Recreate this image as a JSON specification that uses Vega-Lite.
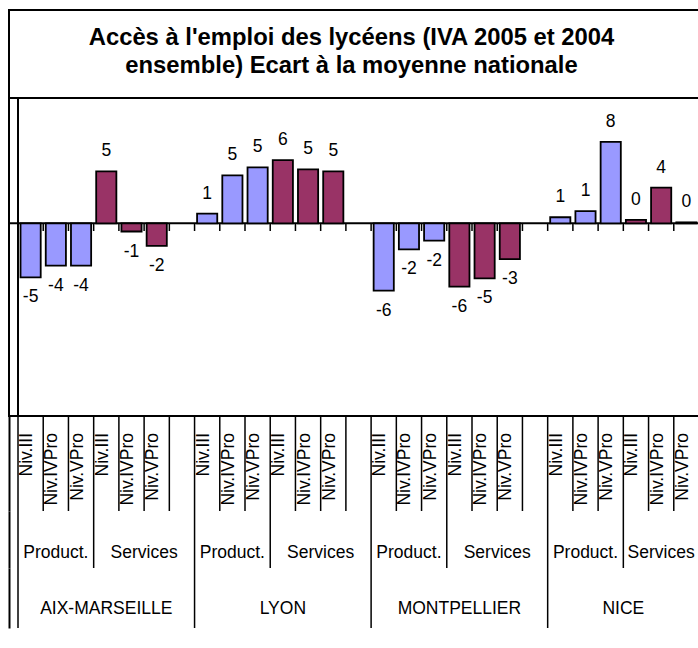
{
  "$schema": "https://vega.github.io/schema/vega-lite/v6.json",
  "padding": {"left": 7, "top": 9, "right": 0, "bottom": 0},
  "background": "white",
  "bounds": "flush",
  "spacing": 0,
  "config": {"font": "Liberation Sans", "view": {"stroke": null}},
  "datasets": {
    "slots": [
      {"id": "AIX-MARSEILLE|Product.|Niv.III", "region": "AIX-MARSEILLE", "group": "Product.", "level": "Niv.III", "value": -5.3, "label": "-5"},
      {"id": "AIX-MARSEILLE|Product.|Niv.IVPro", "region": "AIX-MARSEILLE", "group": "Product.", "level": "Niv.IVPro", "value": -4.15, "label": "-4"},
      {"id": "AIX-MARSEILLE|Product.|Niv.VPro", "region": "AIX-MARSEILLE", "group": "Product.", "level": "Niv.VPro", "value": -4.15, "label": "-4"},
      {"id": "AIX-MARSEILLE|Services|Niv.III", "region": "AIX-MARSEILLE", "group": "Services", "level": "Niv.III", "value": 5.1, "label": "5"},
      {"id": "AIX-MARSEILLE|Services|Niv.IVPro", "region": "AIX-MARSEILLE", "group": "Services", "level": "Niv.IVPro", "value": -0.8, "label": "-1"},
      {"id": "AIX-MARSEILLE|Services|Niv.VPro", "region": "AIX-MARSEILLE", "group": "Services", "level": "Niv.VPro", "value": -2.2, "label": "-2"},
      {"id": "AIX-MARSEILLE|Services|-", "region": "AIX-MARSEILLE", "group": "Services", "level": "", "value": null, "label": ""},
      {"id": "LYON|Product.|Niv.III", "region": "LYON", "group": "Product.", "level": "Niv.III", "value": 0.95, "label": "1"},
      {"id": "LYON|Product.|Niv.IVPro", "region": "LYON", "group": "Product.", "level": "Niv.IVPro", "value": 4.7, "label": "5"},
      {"id": "LYON|Product.|Niv.VPro", "region": "LYON", "group": "Product.", "level": "Niv.VPro", "value": 5.5, "label": "5"},
      {"id": "LYON|Services|Niv.III", "region": "LYON", "group": "Services", "level": "Niv.III", "value": 6.2, "label": "6"},
      {"id": "LYON|Services|Niv.IVPro", "region": "LYON", "group": "Services", "level": "Niv.IVPro", "value": 5.3, "label": "5"},
      {"id": "LYON|Services|Niv.VPro", "region": "LYON", "group": "Services", "level": "Niv.VPro", "value": 5.1, "label": "5"},
      {"id": "LYON|Services|-", "region": "LYON", "group": "Services", "level": "", "value": null, "label": ""},
      {"id": "MONTPELLIER|Product.|Niv.III", "region": "MONTPELLIER", "group": "Product.", "level": "Niv.III", "value": -6.6, "label": "-6"},
      {"id": "MONTPELLIER|Product.|Niv.IVPro", "region": "MONTPELLIER", "group": "Product.", "level": "Niv.IVPro", "value": -2.55, "label": "-2"},
      {"id": "MONTPELLIER|Product.|Niv.VPro", "region": "MONTPELLIER", "group": "Product.", "level": "Niv.VPro", "value": -1.7, "label": "-2"},
      {"id": "MONTPELLIER|Services|Niv.III", "region": "MONTPELLIER", "group": "Services", "level": "Niv.III", "value": -6.2, "label": "-6"},
      {"id": "MONTPELLIER|Services|Niv.IVPro", "region": "MONTPELLIER", "group": "Services", "level": "Niv.IVPro", "value": -5.4, "label": "-5"},
      {"id": "MONTPELLIER|Services|Niv.VPro", "region": "MONTPELLIER", "group": "Services", "level": "Niv.VPro", "value": -3.5, "label": "-3"},
      {"id": "MONTPELLIER|Services|-", "region": "MONTPELLIER", "group": "Services", "level": "", "value": null, "label": ""},
      {"id": "NICE|Product.|Niv.III", "region": "NICE", "group": "Product.", "level": "Niv.III", "value": 0.6, "label": "1"},
      {"id": "NICE|Product.|Niv.IVPro", "region": "NICE", "group": "Product.", "level": "Niv.IVPro", "value": 1.2, "label": "1"},
      {"id": "NICE|Product.|Niv.VPro", "region": "NICE", "group": "Product.", "level": "Niv.VPro", "value": 8.0, "label": "8"},
      {"id": "NICE|Services|Niv.III", "region": "NICE", "group": "Services", "level": "Niv.III", "value": 0.35, "label": "0"},
      {"id": "NICE|Services|Niv.IVPro", "region": "NICE", "group": "Services", "level": "Niv.IVPro", "value": 3.5, "label": "4"},
      {"id": "NICE|Services|Niv.VPro", "region": "NICE", "group": "Services", "level": "Niv.VPro", "value": 0.1, "label": "0"}
    ],
    "groups": [
      {"label": "Product.", "anchor": "AIX-MARSEILLE|Product.|Niv.IVPro", "span": 3},
      {"label": "Services", "anchor": "AIX-MARSEILLE|Services|Niv.IVPro", "span": 4},
      {"label": "Product.", "anchor": "LYON|Product.|Niv.IVPro", "span": 3},
      {"label": "Services", "anchor": "LYON|Services|Niv.IVPro", "span": 4},
      {"label": "Product.", "anchor": "MONTPELLIER|Product.|Niv.IVPro", "span": 3},
      {"label": "Services", "anchor": "MONTPELLIER|Services|Niv.IVPro", "span": 4},
      {"label": "Product.", "anchor": "NICE|Product.|Niv.IVPro", "span": 3},
      {"label": "Services", "anchor": "NICE|Services|Niv.IVPro", "span": 3}
    ],
    "regions": [
      {"label": "AIX-MARSEILLE", "anchor": "AIX-MARSEILLE|Services|Niv.III", "span": 7},
      {"label": "LYON", "anchor": "LYON|Services|Niv.III", "span": 7},
      {"label": "MONTPELLIER", "anchor": "MONTPELLIER|Services|Niv.III", "span": 7},
      {"label": "NICE", "anchor": "NICE|Product.|Niv.VPro", "span": 6}
    ]
  },
  "vconcat": [
    {
      "width": 691,
      "height": 88,
      "view": {"stroke": "black", "strokeWidth": 2},
      "data": {"values": [{}]},
      "mark": {"type": "text", "fontSize": 23.8, "fontWeight": "bold", "align": "center", "baseline": "middle", "lineHeight": 28, "dy": -16, "dx": -3},
      "encoding": {
        "text": {"value": ["Accès à l'emploi des lycéens (IVA 2005 et 2004", "ensemble) Ecart à la moyenne nationale"]}
      }
    },
    {
      "width": 690,
      "height": 318,
      "view": {"stroke": "black", "strokeWidth": 2},
      "layer": [
        {
          "data": {"values": [{}]},
          "mark": {"type": "rule", "color": "black", "strokeWidth": 2},
          "encoding": {"y": {"datum": 0, "type": "quantitative", "scale": {"domain": [-18.9, 12.3], "nice": false, "zero": false}, "axis": null}}
        },
        {
          "data": {"name": "slots"},
          "transform": [{"filter": "datum.id === 'AIX-MARSEILLE|Product.|Niv.III'"}],
          "mark": {"type": "rule", "color": "black", "strokeWidth": 2},
          "encoding": {
            "x": {"field": "id", "type": "nominal", "bandPosition": 0, "axis": null,
              "scale": {"type": "band", "paddingInner": 0, "paddingOuter": 0.1785, "align": 1, "domain": ["AIX-MARSEILLE|Product.|Niv.III","AIX-MARSEILLE|Product.|Niv.IVPro","AIX-MARSEILLE|Product.|Niv.VPro","AIX-MARSEILLE|Services|Niv.III","AIX-MARSEILLE|Services|Niv.IVPro","AIX-MARSEILLE|Services|Niv.VPro","AIX-MARSEILLE|Services|-","LYON|Product.|Niv.III","LYON|Product.|Niv.IVPro","LYON|Product.|Niv.VPro","LYON|Services|Niv.III","LYON|Services|Niv.IVPro","LYON|Services|Niv.VPro","LYON|Services|-","MONTPELLIER|Product.|Niv.III","MONTPELLIER|Product.|Niv.IVPro","MONTPELLIER|Product.|Niv.VPro","MONTPELLIER|Services|Niv.III","MONTPELLIER|Services|Niv.IVPro","MONTPELLIER|Services|Niv.VPro","MONTPELLIER|Services|-","NICE|Product.|Niv.III","NICE|Product.|Niv.IVPro","NICE|Product.|Niv.VPro","NICE|Services|Niv.III","NICE|Services|Niv.IVPro","NICE|Services|Niv.VPro"]}}
          }
        },
        {
          "data": {"name": "slots"},
          "mark": {"type": "rule", "color": "black", "strokeWidth": 1.5},
          "encoding": {
            "x": {"field": "id", "type": "nominal", "bandPosition": 0, "axis": null},
            "y": {"datum": 0, "type": "quantitative"},
            "y2": {"datum": -0.75}
          }
        },
        {
          "data": {"name": "slots"},
          "mark": {"type": "bar", "width": {"band": 0.8}, "stroke": "black", "strokeWidth": 1.8},
          "encoding": {
            "x": {"field": "id", "type": "nominal", "axis": null},
            "y": {"field": "value", "type": "quantitative"},
            "color": {"field": "group", "type": "nominal", "legend": null, "scale": {"domain": ["Product.", "Services"], "range": ["#9999FF", "#993366"]}}
          }
        },
        {
          "data": {"name": "slots"},
          "transform": [{"filter": "isValid(datum.value) && datum.value >= 0"}],
          "mark": {"type": "text", "fontSize": 17.5, "baseline": "alphabetic", "dy": -15},
          "encoding": {
            "x": {"field": "id", "type": "nominal", "axis": null},
            "y": {"field": "value", "type": "quantitative"},
            "text": {"field": "label"}
          }
        },
        {
          "data": {"name": "slots"},
          "transform": [{"filter": "isValid(datum.value) && datum.value < 0"}],
          "mark": {"type": "text", "fontSize": 17.5, "baseline": "alphabetic", "dy": 25},
          "encoding": {
            "x": {"field": "id", "type": "nominal", "axis": null},
            "y": {"field": "value", "type": "quantitative"},
            "text": {"field": "label"}
          }
        }
      ]
    },
    {
      "width": 690,
      "height": 95,
      "data": {"name": "slots"},
      "layer": [
        {
          "mark": {"type": "rule", "color": "black", "strokeWidth": 1.5},
          "encoding": {
            "x": {"field": "id", "type": "nominal", "bandPosition": 0, "axis": null,
              "scale": {"type": "band", "paddingInner": 0, "paddingOuter": 0.1785, "align": 1, "domain": ["AIX-MARSEILLE|Product.|Niv.III","AIX-MARSEILLE|Product.|Niv.IVPro","AIX-MARSEILLE|Product.|Niv.VPro","AIX-MARSEILLE|Services|Niv.III","AIX-MARSEILLE|Services|Niv.IVPro","AIX-MARSEILLE|Services|Niv.VPro","AIX-MARSEILLE|Services|-","LYON|Product.|Niv.III","LYON|Product.|Niv.IVPro","LYON|Product.|Niv.VPro","LYON|Services|Niv.III","LYON|Services|Niv.IVPro","LYON|Services|Niv.VPro","LYON|Services|-","MONTPELLIER|Product.|Niv.III","MONTPELLIER|Product.|Niv.IVPro","MONTPELLIER|Product.|Niv.VPro","MONTPELLIER|Services|Niv.III","MONTPELLIER|Services|Niv.IVPro","MONTPELLIER|Services|Niv.VPro","MONTPELLIER|Services|-","NICE|Product.|Niv.III","NICE|Product.|Niv.IVPro","NICE|Product.|Niv.VPro","NICE|Services|Niv.III","NICE|Services|Niv.IVPro","NICE|Services|Niv.VPro"]}}
          }
        },
        {
          "transform": [{"filter": "datum.id === 'NICE|Services|Niv.VPro'"}],
          "mark": {"type": "rule", "color": "black", "strokeWidth": 1.5},
          "encoding": {"x": {"field": "id", "type": "nominal", "bandPosition": 1, "axis": null}}
        },
        {
          "transform": [{"filter": "datum.level !== ''"}],
          "mark": {"type": "text", "fontSize": 17.5, "angle": 270, "align": "right", "baseline": "middle", "dx": 30.5, "dy": -3.5},
          "encoding": {
            "x": {"field": "id", "type": "nominal", "axis": null},
            "y": {"datum": "niv", "type": "nominal", "axis": {"domain": true, "domainColor": "black", "domainWidth": 2, "labels": false, "ticks": false, "title": null, "grid": false}},
            "text": {"field": "level"}
          }
        }
      ]
    },
    {
      "width": 690,
      "height": 57,
      "layer": [
        {
          "data": {"name": "slots"},
          "transform": [{"filter": "datum.level === 'Niv.III'"}],
          "mark": {"type": "rule", "color": "black", "strokeWidth": 1.5},
          "encoding": {
            "x": {"field": "id", "type": "nominal", "bandPosition": 0, "axis": null,
              "scale": {"type": "band", "paddingInner": 0, "paddingOuter": 0.1785, "align": 1, "domain": ["AIX-MARSEILLE|Product.|Niv.III","AIX-MARSEILLE|Product.|Niv.IVPro","AIX-MARSEILLE|Product.|Niv.VPro","AIX-MARSEILLE|Services|Niv.III","AIX-MARSEILLE|Services|Niv.IVPro","AIX-MARSEILLE|Services|Niv.VPro","AIX-MARSEILLE|Services|-","LYON|Product.|Niv.III","LYON|Product.|Niv.IVPro","LYON|Product.|Niv.VPro","LYON|Services|Niv.III","LYON|Services|Niv.IVPro","LYON|Services|Niv.VPro","LYON|Services|-","MONTPELLIER|Product.|Niv.III","MONTPELLIER|Product.|Niv.IVPro","MONTPELLIER|Product.|Niv.VPro","MONTPELLIER|Services|Niv.III","MONTPELLIER|Services|Niv.IVPro","MONTPELLIER|Services|Niv.VPro","MONTPELLIER|Services|-","NICE|Product.|Niv.III","NICE|Product.|Niv.IVPro","NICE|Product.|Niv.VPro","NICE|Services|Niv.III","NICE|Services|Niv.IVPro","NICE|Services|Niv.VPro"]}}
          }
        },
        {
          "data": {"name": "slots"},
          "transform": [{"filter": "datum.id === 'NICE|Services|Niv.VPro'"}],
          "mark": {"type": "rule", "color": "black", "strokeWidth": 1.5},
          "encoding": {"x": {"field": "id", "type": "nominal", "bandPosition": 1, "axis": null}}
        },
        {
          "data": {"name": "groups"},
          "transform": [{"filter": "datum.span % 2 === 1"}],
          "mark": {"type": "text", "fontSize": 17.5, "baseline": "alphabetic", "dy": 18},
          "encoding": {
            "x": {"field": "anchor", "type": "nominal", "axis": null},
            "y": {"datum": "grp", "type": "nominal", "axis": {"domain": true, "domainColor": "black", "domainWidth": 2, "labels": false, "ticks": false, "title": null, "grid": false}},
            "text": {"field": "label"}
          }
        },
        {
          "data": {"name": "groups"},
          "transform": [{"filter": "datum.span % 2 === 0"}],
          "mark": {"type": "text", "fontSize": 17.5, "baseline": "alphabetic", "dy": 18},
          "encoding": {
            "x": {"field": "anchor", "type": "nominal", "bandPosition": 1, "axis": null},
            "y": {"datum": "grp", "type": "nominal"},
            "text": {"field": "label"}
          }
        }
      ]
    },
    {
      "width": 690,
      "height": 60,
      "layer": [
        {
          "data": {"name": "slots"},
          "transform": [{"filter": "datum.level === 'Niv.III' && datum.group === 'Product.'"}],
          "mark": {"type": "rule", "color": "black", "strokeWidth": 1.5},
          "encoding": {
            "x": {"field": "id", "type": "nominal", "bandPosition": 0, "axis": null,
              "scale": {"type": "band", "paddingInner": 0, "paddingOuter": 0.1785, "align": 1, "domain": ["AIX-MARSEILLE|Product.|Niv.III","AIX-MARSEILLE|Product.|Niv.IVPro","AIX-MARSEILLE|Product.|Niv.VPro","AIX-MARSEILLE|Services|Niv.III","AIX-MARSEILLE|Services|Niv.IVPro","AIX-MARSEILLE|Services|Niv.VPro","AIX-MARSEILLE|Services|-","LYON|Product.|Niv.III","LYON|Product.|Niv.IVPro","LYON|Product.|Niv.VPro","LYON|Services|Niv.III","LYON|Services|Niv.IVPro","LYON|Services|Niv.VPro","LYON|Services|-","MONTPELLIER|Product.|Niv.III","MONTPELLIER|Product.|Niv.IVPro","MONTPELLIER|Product.|Niv.VPro","MONTPELLIER|Services|Niv.III","MONTPELLIER|Services|Niv.IVPro","MONTPELLIER|Services|Niv.VPro","MONTPELLIER|Services|-","NICE|Product.|Niv.III","NICE|Product.|Niv.IVPro","NICE|Product.|Niv.VPro","NICE|Services|Niv.III","NICE|Services|Niv.IVPro","NICE|Services|Niv.VPro"]}}
          }
        },
        {
          "data": {"name": "slots"},
          "transform": [{"filter": "datum.id === 'NICE|Services|Niv.VPro'"}],
          "mark": {"type": "rule", "color": "black", "strokeWidth": 1.5},
          "encoding": {"x": {"field": "id", "type": "nominal", "bandPosition": 1, "axis": null}}
        },
        {
          "data": {"name": "regions"},
          "transform": [{"filter": "datum.span % 2 === 1"}],
          "mark": {"type": "text", "fontSize": 17.5, "baseline": "alphabetic", "dy": 16},
          "encoding": {
            "x": {"field": "anchor", "type": "nominal", "axis": null},
            "y": {"datum": "reg", "type": "nominal", "axis": {"domain": true, "domainColor": "black", "domainWidth": 2, "labels": false, "ticks": false, "title": null, "grid": false}},
            "text": {"field": "label"}
          }
        },
        {
          "data": {"name": "regions"},
          "transform": [{"filter": "datum.span % 2 === 0"}],
          "mark": {"type": "text", "fontSize": 17.5, "baseline": "alphabetic", "dy": 16},
          "encoding": {
            "x": {"field": "anchor", "type": "nominal", "bandPosition": 1, "axis": null},
            "y": {"datum": "reg", "type": "nominal"},
            "text": {"field": "label"}
          }
        }
      ]
    }
  ]
}
